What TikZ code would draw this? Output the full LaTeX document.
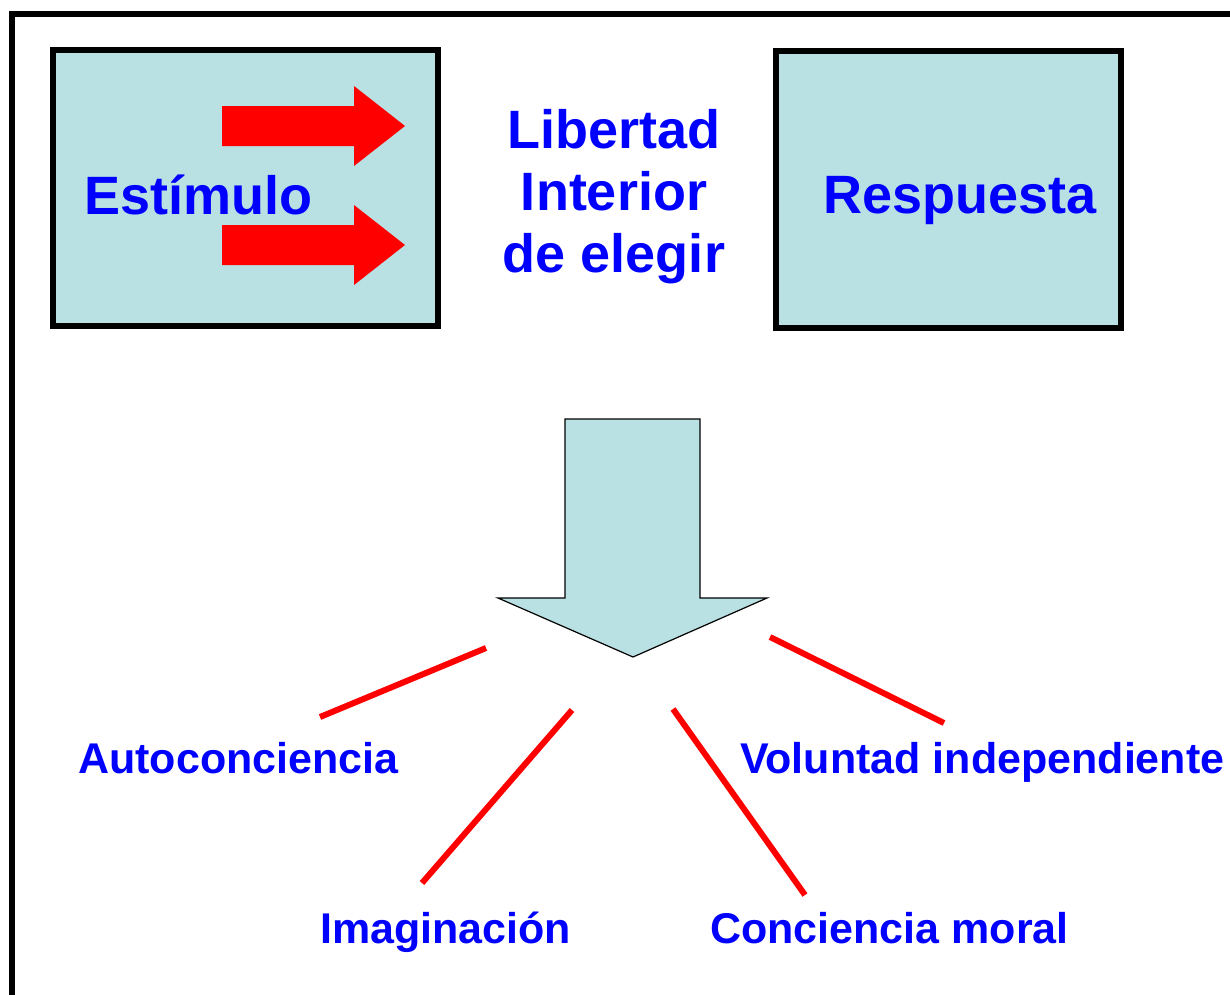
\documentclass[tikz,border=0pt]{standalone}
\usepackage{fontspec}
\setmainfont{Liberation Sans}
\usepackage{xcolor}
\definecolor{panelblue}{RGB}{185,224,227}
\definecolor{textblue}{RGB}{0,0,255}
\definecolor{arrowred}{RGB}{255,0,0}
\usepackage{tikz}
\usetikzlibrary{calc}
\newcommand{\bigtext}{\fontsize{54}{62}\selectfont\bfseries}
\newcommand{\smalltext}{\fontsize{43}{50}\selectfont\bfseries}
\tikzset{
    frame/.style={draw=black, line width=6pt},
    panel/.style={draw=black, line width=6pt, fill=panelblue, inner sep=0pt},
    title/.style={text=textblue, inner sep=0pt, font=\bigtext},
    label/.style={text=textblue, inner sep=0pt, font=\smalltext, anchor=base west},
    redarrow/.style={fill=arrowred, draw=none},
    downarrow/.style={fill=panelblue, draw=black, line width=1.2pt, line join=miter},
    branch/.style={draw=arrowred, line width=6pt}
}

\begin{document}
\begin{tikzpicture}[x=1pt, y=-1pt]
    \useasboundingbox (0,0) rectangle (1230,994);

    % outer frame, cut by the page edge
    \draw[frame] (11.5,1000) -- (11.5,14) -- (1240,14);

    % the two panels
    \node[panel, minimum width=385pt, minimum height=275.5pt] (stimbox) at (245,187.75) {};
    \node[panel, minimum width=345pt, minimum height=277pt] (respbox) at (948,189) {};

    % red arrows inside the first panel
    \foreach \ay in {126,245} {
        \fill[redarrow] (222,\ay-20) -- (354,\ay-20) -- (354,\ay-40) -- (405,\ay)
            -- (354,\ay+40) -- (354,\ay+20) -- (222,\ay+20) -- cycle;
    }

    \node[title, anchor=base west] (stim) at (84,214) {Estímulo};
    \node[title, anchor=base west] (resp) at (823,213) {Respuesta};
    \node[title, align=center, anchor=north] (libertad) at (614,109) {Libertad\\Interior\\de elegir};

    % big arrow pointing down
    \draw[downarrow] (565,419) -- (700,419) -- (700,598) -- (767,598) -- (633,657)
        -- (498,598) -- (565,598) -- cycle;

    % labels
    \node[label] (auto) at (78,773) {Autoconciencia};
    \node[label] (imag) at (320,943) {Imaginación};
    \node[label] (conc) at (710,943) {Conciencia moral};
    \node[label] (volu) at (740,773) {Voluntad independiente};

    % red branches
    \coordinate (a1) at (486,648);  \coordinate (a2) at (320,717);
    \coordinate (i1) at (572,710);  \coordinate (i2) at (422,883);
    \coordinate (c1) at (673,709);  \coordinate (c2) at (805,895);
    \coordinate (v1) at (770,637);  \coordinate (v2) at (944,723);
    \draw[branch] (a1) -- (a2);
    \draw[branch] (i1) -- (i2);
    \draw[branch] (c1) -- (c2);
    \draw[branch] (v1) -- (v2);
\end{tikzpicture}
\end{document}
